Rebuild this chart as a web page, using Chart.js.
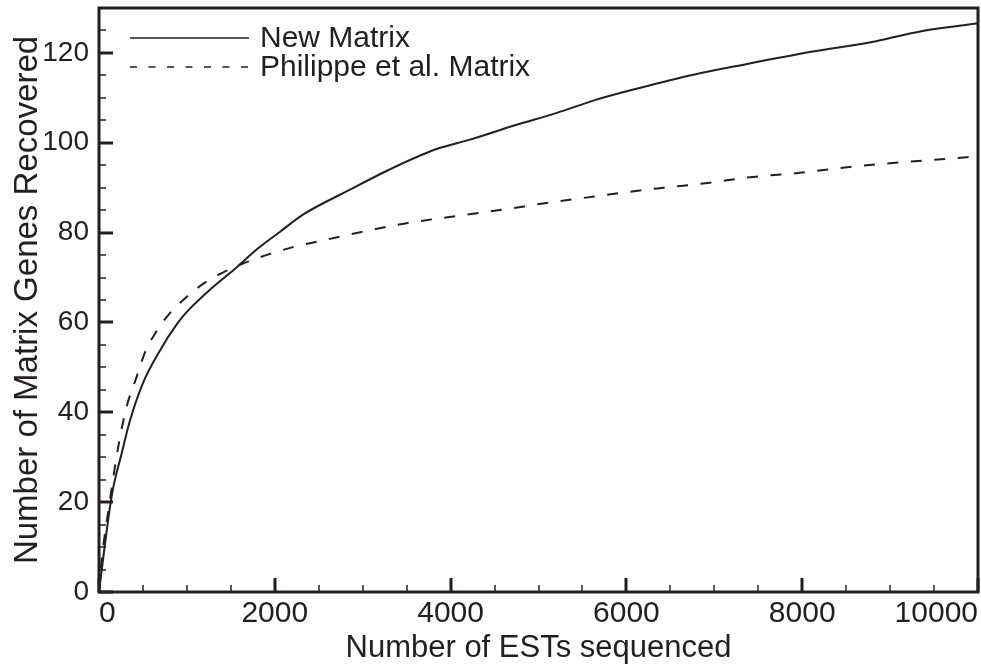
<!DOCTYPE html>
<html>
<head>
<meta charset="utf-8">
<title>Matrix genes recovered vs ESTs sequenced</title>
<script src="https://cdn.jsdelivr.net/npm/chart.js@4/dist/chart.umd.min.js"></script>
<style>
  html, body { margin: 0; padding: 0; background: #fff; }
  #wrap { width: 981px; height: 664px; position: relative; }
</style>
</head>
<body>
<div id="wrap"><canvas id="est-chart"></canvas></div>
<script>
// Values
const seriesNames = ['New Matrix', 'Philippe et al. Matrix'];

const estsNew = [0, 70, 150, 260, 350, 500, 670, 900, 1020, 1280, 1550, 1810, 2060, 2320, 2850, 3300, 3840, 4220, 4750, 5200, 5660, 6150, 6750, 7360, 8120, 8840, 9370, 10000];
const genesNew = [0, 11, 22, 31, 38, 46.5, 53, 60, 62.8, 67.6, 72, 76.5, 80.2, 84, 89.5, 94, 98.6, 100.7, 104, 106.6, 109.6, 112.2, 115.1, 117.5, 120.3, 122.6, 124.9, 126.6];

const estsPhilippe = [0, 30, 125, 220, 315, 430, 520, 640, 790, 980, 1200, 1430, 1700, 1920, 2230, 2440, 2930, 3500, 4030, 4590, 5090, 5580, 5920, 6380, 6900, 7440, 7970, 8570, 9100, 9630, 10000];
const genesPhilippe = [0, 7, 20.5, 32.4, 41.3, 48, 53.2, 57.6, 61.7, 65.4, 68.8, 71.3, 73.6, 75.1, 76.9, 77.8, 79.9, 82.1, 83.6, 85.1, 86.6, 87.9, 88.8, 89.9, 91.0, 92.4, 93.3, 94.7, 95.6, 96.4, 97.0];

const xTicks = [0, 2000, 4000, 6000, 8000, 10000];
const yTicks = [0, 20, 40, 60, 80, 100, 120];

const ink = '#231f20';
const fontFamily = '"Liberation Sans", Arial, Helvetica, sans-serif';

function toPoints(xs, ys) {
    return xs.map((x, i) => ({ x: x, y: ys[i] }));
}

// frame, inside ticks (major + minor) and the in-plot legend
const framePlugin = {
    id: 'frame',
    afterDatasetsDraw(chart) {
        const { ctx, chartArea: a, scales: { x, y } } = chart;
        ctx.save();
        ctx.strokeStyle = ink;
        ctx.lineCap = 'butt';

        for (let v = 0; v <= 10000; v += 500) {
            const px = Math.round(x.getPixelForValue(v));
            const major = v % 2000 === 0;
            ctx.lineWidth = major ? 3 : 1.5;
            ctx.beginPath();
            ctx.moveTo(px, a.bottom);
            ctx.lineTo(px, a.bottom - (major ? 14 : 7));
            ctx.stroke();
        }
        for (let v = 0; v <= 130; v += 5) {
            const py = Math.round(y.getPixelForValue(v));
            const major = v % 20 === 0;
            ctx.lineWidth = major ? 3 : 1.5;
            ctx.beginPath();
            ctx.moveTo(a.left, py);
            ctx.lineTo(a.left + (major ? 14 : 7), py);
            ctx.stroke();
        }

        ctx.lineWidth = 3;
        ctx.strokeRect(a.left, a.top, a.right - a.left, a.bottom - a.top);

        // legend
        ctx.font = '30px ' + fontFamily;
        ctx.fillStyle = ink;
        ctx.textBaseline = 'middle';
        const rows = [38, 67];
        chart.data.datasets.forEach((ds, i) => {
            ctx.lineWidth = 1.5;
            ctx.setLineDash(i === 0 ? [] : [7, 11.5]);
            ctx.beginPath();
            ctx.moveTo(130, rows[i]);
            ctx.lineTo(249, rows[i]);
            ctx.stroke();
            ctx.setLineDash([]);
            ctx.fillText(ds.label, 260, rows[i] + 1);
        });
        ctx.restore();
    }
};

const ctx = document.getElementById('est-chart').getContext('2d');
const estChart = new Chart(ctx, {
    type: 'line',
    data: {
        datasets: [{
            label: seriesNames[0],
            data: toPoints(estsNew, genesNew),
            borderColor: ink,
            borderWidth: 2,
            pointRadius: 0,
            cubicInterpolationMode: 'monotone',
            fill: false
        }, {
            label: seriesNames[1],
            data: toPoints(estsPhilippe, genesPhilippe),
            borderColor: ink,
            borderWidth: 2,
            borderDash: [11, 12.5],
            pointRadius: 0,
            cubicInterpolationMode: 'monotone',
            fill: false
        }]
    },
    options: {
        responsive: true,
        maintainAspectRatio: false,
        animation: false,
        layout: { autoPadding: false, padding: { top: 8, right: 3, bottom: 0, left: 0 } },
        plugins: {
            legend: { display: false },
            tooltip: { enabled: false }
        },
        scales: {
            x: {
                type: 'linear',
                min: 0,
                max: 10000,
                afterBuildTicks(scale) {
                    scale.ticks = xTicks.map(v => ({ value: v }));
                },
                afterFit(scale) {
                    scale.height = 72;
                    scale.paddingLeft = 0;
                    scale.paddingRight = 0;
                },
                grid: { display: false, drawTicks: false },
                border: { display: false },
                ticks: {
                    align: 'inner',
                    padding: 4,
                    color: ink,
                    font: { family: fontFamily, size: 30 },
                    maxRotation: 0,
                    autoSkip: false,
                    callback: v => String(v)
                },
                title: {
                    display: true,
                    text: 'Number of ESTs sequenced',
                    color: ink,
                    font: { family: fontFamily, size: 31, lineHeight: 1 },
                    padding: 0
                }
            },
            y: {
                type: 'linear',
                min: 0,
                max: 130,
                afterBuildTicks(scale) {
                    scale.ticks = yTicks.map(v => ({ value: v }));
                },
                afterFit(scale) {
                    scale.width = 99;
                    scale.paddingTop = 0;
                    scale.paddingBottom = 0;
                },
                grid: { display: false, drawTicks: false },
                border: { display: false },
                ticks: {
                    padding: 10,
                    color: ink,
                    font: { family: fontFamily, size: 28 },
                    autoSkip: false,
                    callback: v => String(v)
                },
                title: {
                    display: true,
                    text: 'Number of Matrix Genes Recovered',
                    color: ink,
                    font: { family: fontFamily, size: 33, lineHeight: 1.2 },
                    padding: { top: 8, bottom: 0 }
                }
            }
        }
    },
    plugins: [framePlugin]
});
</script>
</body>
</html>
